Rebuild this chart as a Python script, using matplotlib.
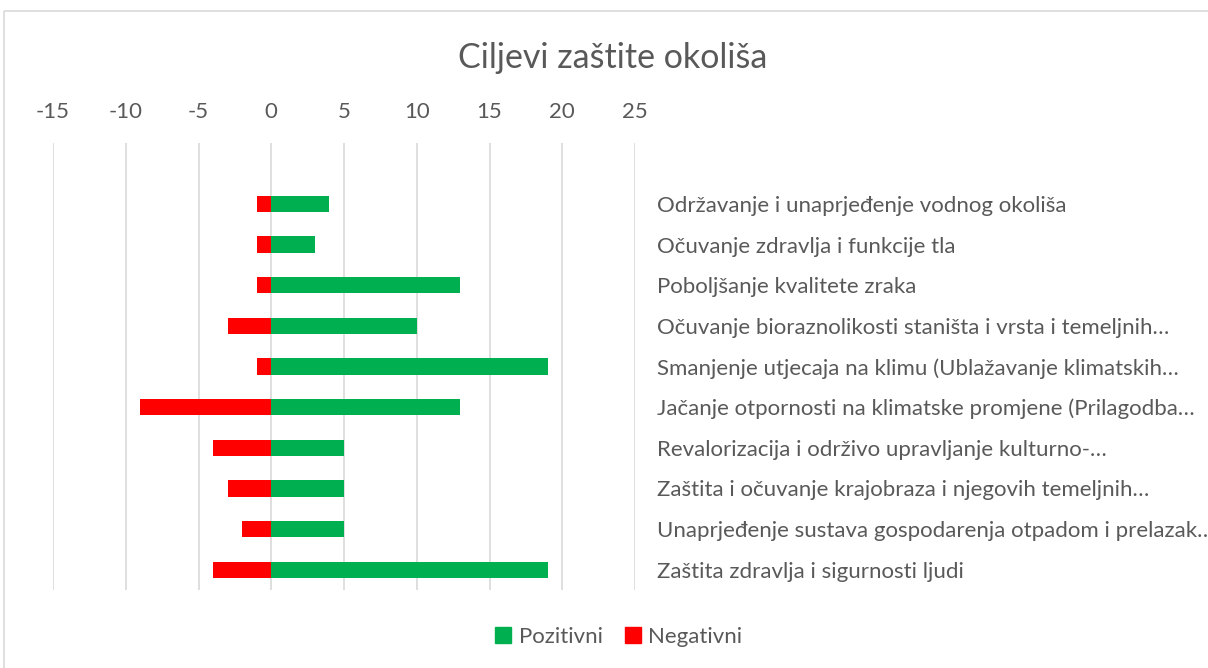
import matplotlib
matplotlib.use("Agg")
import matplotlib.pyplot as plt
from matplotlib.patches import Rectangle, Patch

plt.rcParams['font.family'] = ['Lato', 'DejaVu Sans']

categories = [
    "Održavanje i unaprjeđenje vodnog okoliša",
    "Očuvanje zdravlja i funkcije tla",
    "Poboljšanje kvalitete zraka",
    "Očuvanje bioraznolikosti staništa i vrsta i temeljnih…",
    "Smanjenje utjecaja na klimu (Ublažavanje klimatskih…",
    "Jačanje otpornosti na klimatske promjene (Prilagodba…",
    "Revalorizacija i održivo upravljanje kulturno-…",
    "Zaštita i očuvanje krajobraza i njegovih temeljnih…",
    "Unaprjeđenje sustava gospodarenja otpadom i prelazak…",
    "Zaštita zdravlja i sigurnosti ljudi",
]
pozitivni = [4, 3, 13, 10, 19, 13, 5, 5, 5, 19]
negativni = [-1, -1, -1, -3, -1, -9, -4, -3, -2, -4]
xticks = [-15, -10, -5, 0, 5, 10, 15, 20, 25]

W, H = 1208, 668
fig = plt.figure(figsize=(W / 100, H / 100), dpi=100)

# outer chart frame
fig.patches.append(Rectangle((4 / W, 1 - 11 / H), (W + 10) / W, -(H) / H,
                             transform=fig.transFigure, fill=False,
                             edgecolor='#d9d9d9', linewidth=1.2))

left, right, top, bottom = 53, 635, 143, 590
ax = fig.add_axes([left / W, 1 - bottom / H, (right - left) / W, (bottom - top) / H])

grey = '#595959'
green = '#00B050'
red = '#FF0000'

y = list(range(len(categories)))
ax.barh(y, pozitivni, height=0.4, color=green, label='Pozitivni', zorder=3)
ax.barh(y, negativni, height=0.4, color=red, label='Negativni', zorder=3)

ax.set_xlim(-15, 25)
ax.set_ylim(9.5, -1.5)
ax.set_xticks(xticks)
ax.set_xticklabels([str(v) for v in xticks])
ax.xaxis.tick_top()
ax.tick_params(axis='x', length=0, pad=15, labelsize=16, labelcolor=grey)
ax.grid(axis='x', color='#d9d9d9', linewidth=1.2, zorder=0)

ax.yaxis.tick_right()
ax.set_yticks(y)
ax.set_yticklabels(categories)
ax.tick_params(axis='y', length=0, pad=16, labelsize=16, labelcolor=grey)
for lbl in ax.get_yticklabels():
    lbl.set_horizontalalignment('left')

for s in ax.spines.values():
    s.set_visible(False)

fig.text(613 / W, 1 - 58 / H, "Ciljevi zaštite okoliša", ha='center', va='center',
         fontsize=24.5, color=grey)

handles = [Patch(color=green, label='Pozitivni'), Patch(color=red, label='Negativni')]
fig.legend(handles=handles, loc='center', bbox_to_anchor=(619 / W, 1 - 637 / H),
           ncol=2, frameon=False, fontsize=16, labelcolor=grey,
           handlelength=0.7, handleheight=0.7, handletextpad=0.35, columnspacing=1.0)

fig.savefig("out.png", dpi=100)
